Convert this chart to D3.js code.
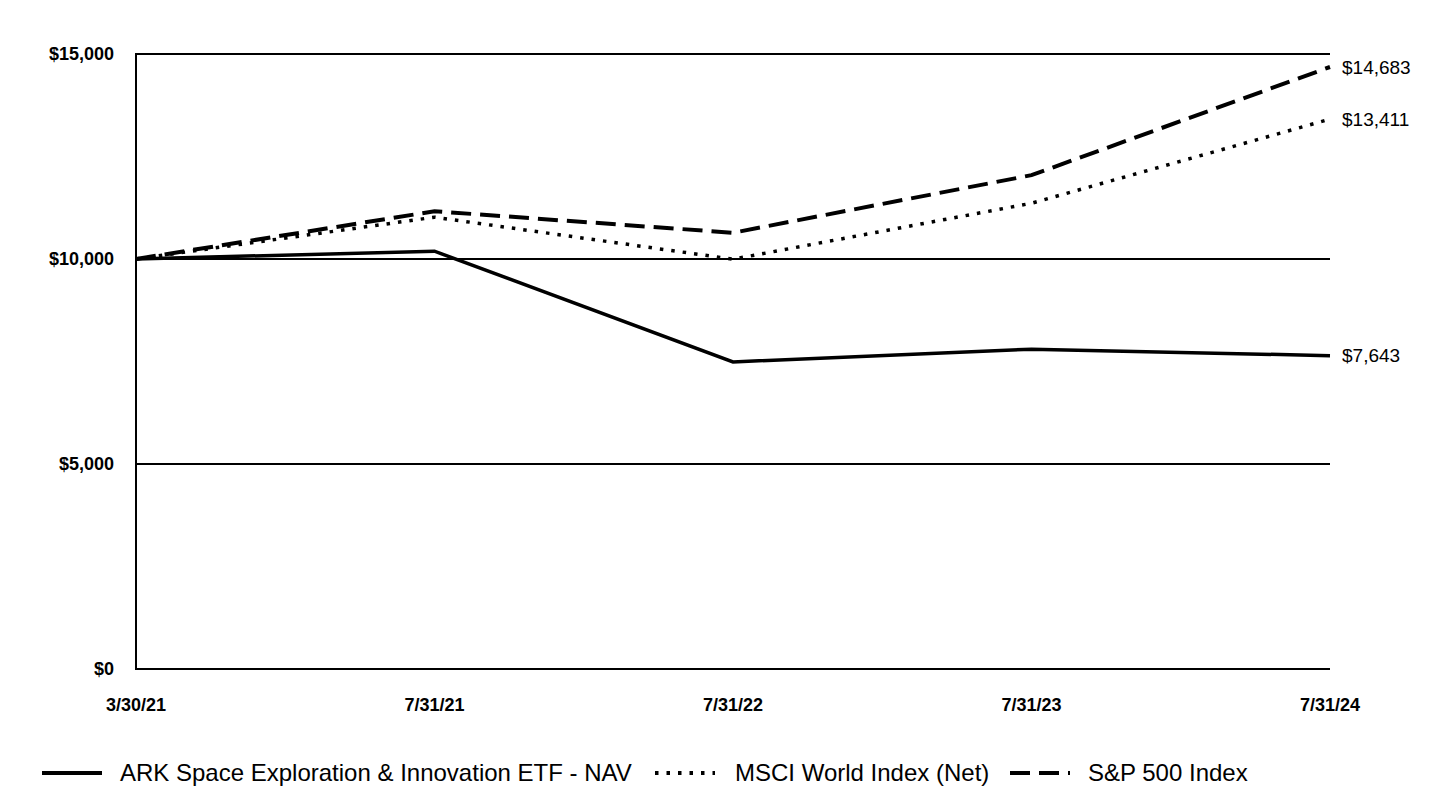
<!DOCTYPE html>
<html><head><meta charset="utf-8">
<script src="https://cdn.jsdelivr.net/npm/d3@7"></script>
<style>body{margin:0;background:#fff;font-family:"Liberation Sans",Arial,sans-serif}</style>
</head><body><svg id="c" width="1440" height="792"></svg>
<script>
const categories = ["3/30/21","7/31/21","7/31/22","7/31/23","7/31/24"];
const arkValues = [10000, 10190, 7490, 7800, 7643];
const msciValues = [10000, 11020, 9995, 11360, 13411];
const spValues = [10000, 11165, 10640, 12045, 14683];
const yTicks = [0, 5000, 10000, 15000];
const seriesNames = ["ARK Space Exploration & Innovation ETF - NAV", "MSCI World Index (Net)", "S&P 500 Index"];

const series = [
  {name: seriesNames[0], values: arkValues, dash: null, w: 3.5},
  {name: seriesNames[1], values: msciValues, dash: "3.5,8", w: 3.5},
  {name: seriesNames[2], values: spValues, dash: "20,9", w: 4}
];

const svg = d3.select("#c");
const x = d3.scalePoint().domain(categories).range([136, 1330]);
const y = d3.scaleLinear().domain([0, 15000]).range([669, 54]);
const fmt = v => "$" + d3.format(",")(v);

svg.append("g").selectAll("line").data(yTicks).join("line")
  .attr("x1", 136).attr("x2", 1330)
  .attr("y1", d => y(d)).attr("y2", d => y(d))
  .attr("stroke", "#000").attr("stroke-width", 2);
svg.append("line").attr("x1", 136).attr("x2", 136).attr("y1", 53).attr("y2", 670)
  .attr("stroke", "#000").attr("stroke-width", 2);

svg.append("g").selectAll("text").data(yTicks).join("text")
  .attr("x", 114).attr("y", d => y(d)).attr("dy", "0.35em")
  .attr("text-anchor", "end").attr("font-weight", "bold").attr("font-size", 18)
  .text(fmt);

svg.append("g").selectAll("text").data(categories).join("text")
  .attr("x", d => x(d)).attr("y", 705).attr("dy", "0.35em")
  .attr("text-anchor", "middle").attr("font-weight", "bold").attr("font-size", 18)
  .text(d => d);

const line = d3.line().x((d, i) => x(categories[i])).y(d => y(d));
series.forEach(s => {
  svg.append("path").datum(s.values).attr("d", line)
    .attr("fill", "none").attr("stroke", "#000").attr("stroke-width", s.w)
    .attr("stroke-dasharray", s.dash);
  const last = s.values[s.values.length - 1];
  svg.append("text").attr("x", 1342).attr("y", y(last)).attr("dy", "0.35em")
    .attr("font-size", 19).text(fmt(last));
});

const legendX = [42, 655, 1010];
const legendTextX = [78, 80, 78];
series.forEach((s, i) => {
  const g = svg.append("g").attr("transform", `translate(${legendX[i]},773)`);
  g.append("line").attr("x1", 0).attr("x2", 60).attr("y1", 0).attr("y2", 0)
    .attr("stroke", "#000").attr("stroke-width", 4).attr("stroke-dasharray", s.dash);
  g.append("text").attr("x", legendTextX[i]).attr("y", 0).attr("dy", "0.35em")
    .attr("font-size", 24).text(s.name);
});
</script></body></html>
